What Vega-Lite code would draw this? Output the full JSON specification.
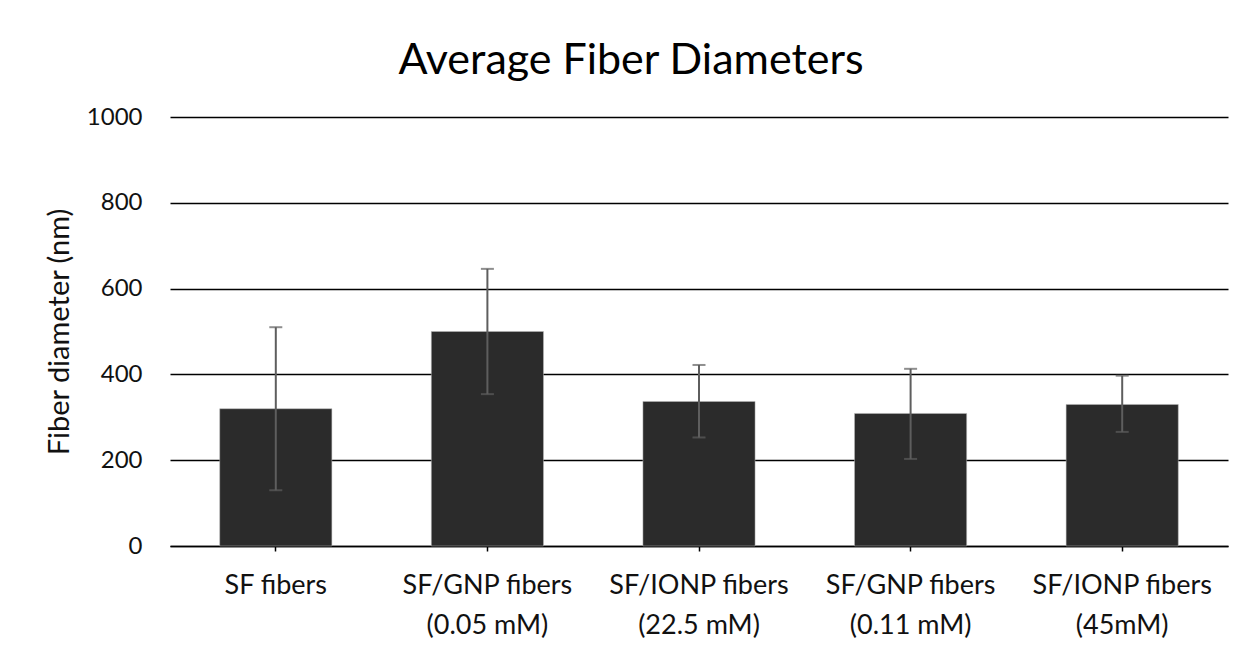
{
  "$schema": "https://vega.github.io/schema/vega-lite/v6.json",
  "autosize": {"type": "none"},
  "padding": {"left": 170, "top": 117, "right": 20, "bottom": 109},
  "width": 1058,
  "height": 429,
  "background": "white",
  "title": {
    "text": "Average Fiber Diameters",
    "font": "Lato",
    "fontSize": 43,
    "fontWeight": "normal",
    "color": "#000000",
    "anchor": "middle",
    "dx": -68,
    "offset": 22
  },
  "data": {
    "values": [
      {"fiber": "SF fibers", "diameter": 320, "lo": 130, "hi": 510},
      {"fiber": "SF/GNP fibers (0.05 mM)", "diameter": 500, "lo": 354, "hi": 646},
      {"fiber": "SF/IONP fibers (22.5 mM)", "diameter": 337, "lo": 253, "hi": 422},
      {"fiber": "SF/GNP fibers (0.11 mM)", "diameter": 309, "lo": 203, "hi": 413},
      {"fiber": "SF/IONP fibers (45mM)", "diameter": 330, "lo": 266, "hi": 397}
    ]
  },
  "encoding": {
    "x": {
      "field": "fiber",
      "type": "nominal",
      "sort": null,
      "scale": {"paddingInner": 0.47, "paddingOuter": 0.235},
      "axis": {
        "title": null,
        "labelAngle": 0,
        "labelFont": "Lato",
        "labelFontSize": 27,
        "labelColor": "#111111",
        "labelLineHeight": 40,
        "labelPadding": 21,
        "labelLimit": 0,
        "labelOverlap": false,
        "labelExpr": "indexof(datum.label, ' (') > 0 ? [substring(datum.label, 0, indexof(datum.label, ' (')), substring(datum.label, indexof(datum.label, ' (') + 1)] : datum.label",
        "domainColor": "#000000",
        "domainWidth": 1.5,
        "tickColor": "#000000",
        "tickSize": 5,
        "tickWidth": 1.5,
        "grid": false
      }
    }
  },
  "layer": [
    {
      "mark": {"type": "bar", "color": "#2b2b2b", "stroke": "#bbbbbb", "strokeWidth": 0.5},
      "encoding": {
        "y": {
          "field": "diameter",
          "type": "quantitative",
          "scale": {"domain": [0, 1000], "nice": false},
          "axis": {
            "title": "Fiber diameter (nm)",
            "titleFont": "Lato",
            "titleFontSize": 29,
            "titleFontWeight": "normal",
            "titleColor": "#111111",
            "titlePadding": 12,
            "values": [0, 200, 400, 600, 800, 1000],
            "format": "d",
            "labelFont": "Lato",
            "labelFontSize": 24,
            "labelColor": "#111111",
            "labelPadding": 28,
            "ticks": false,
            "domain": false,
            "grid": true,
            "gridColor": "#000000",
            "gridWidth": 1.5
          }
        }
      }
    },
    {
      "mark": {"type": "rule", "color": "#5e5e5e", "strokeWidth": 2},
      "encoding": {
        "y": {"field": "lo", "type": "quantitative"},
        "y2": {"field": "hi"}
      }
    },
    {
      "mark": {"type": "tick", "color": "#5e5e5e", "size": 13, "thickness": 2},
      "encoding": {"y": {"field": "lo", "type": "quantitative"}}
    },
    {
      "mark": {"type": "tick", "color": "#5e5e5e", "size": 13, "thickness": 2},
      "encoding": {"y": {"field": "hi", "type": "quantitative"}}
    }
  ],
  "config": {"view": {"stroke": null}}
}
